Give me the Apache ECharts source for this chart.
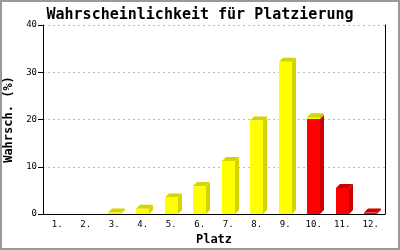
<!DOCTYPE html>
<html>
<head>
<meta charset="utf-8">
<script src="https://cdn.jsdelivr.net/npm/echarts@6/dist/echarts.min.js"></script>
<style>
html,body{margin:0;padding:0;background:#fff;}
#c{width:400px;height:250px;}
</style>
</head>
<body>
<div id="c"></div>
<script>
const categories = ['1.','2.','3.','4.','5.','6.','7.','8.','9.','10.','11.','12.'];
const yellowValues = [0, 0, 0.3, 1.1, 3.5, 5.9, 11.2, 19.8, 32.2, 0.4, 0, 0];
const redValues = [0, 0, 0, 0, 0, 0, 0, 0, 0, 20.1, 5.5, 0.3];
const yTicks = [0, 10, 20, 30, 40];

const FONT = 'DejaVu Sans Mono';

function bar3D(front, side, top) {
  return function (params, api) {
    const x = api.value(0), lo = api.value(1), hi = api.value(2);
    if (!(hi > lo)) return null;
    const pLo = api.coord([x, lo]);
    const pHi = api.coord([x, hi]);
    const w = 13, d = 4;
    const x0 = Math.round(pLo[0] - w / 2), x1 = x0 + w;
    const yT = pHi[1], yB = pLo[1];
    return {
      type: 'group',
      children: [
        { type: 'polygon', shape: { points: [[x1, yB], [x1 + d, yB - d], [x1 + d, yT - d], [x1, yT]] }, style: { fill: side } },
        { type: 'polygon', shape: { points: [[x0, yT], [x0 + d, yT - d], [x1 + d, yT - d], [x1, yT]] }, style: { fill: top } },
        { type: 'rect', shape: { x: x0, y: yT, width: w, height: Math.max(yB - yT, 0) }, style: { fill: front } }
      ]
    };
  };
}

const redData = categories.map((c, i) => [i, 0, redValues[i]]);
const yellowData = categories.map((c, i) => [i, redValues[i], redValues[i] + yellowValues[i]]);

const chart = echarts.init(document.getElementById('c'), null, { renderer: 'canvas' });
chart.setOption({
  animation: false,
  backgroundColor: '#fff',
  title: {
    text: 'Wahrscheinlichkeit für Platzierung',
    left: 'center', top: 3,
    textStyle: { fontFamily: FONT, fontSize: 15, fontWeight: 'bold', color: '#000' }
  },
  grid: { left: 43, right: 15, top: 25, bottom: 36, containLabel: false, outerBoundsMode: 'none' },
  xAxis: {
    type: 'category',
    data: categories,
    boundaryGap: true,
    name: 'Platz',
    nameLocation: 'middle',
    nameGap: 20,
    nameTextStyle: { fontFamily: FONT, fontSize: 12, fontWeight: 'bold', color: '#000' },
    axisLine: { lineStyle: { color: '#000', width: 1 } },
    axisTick: { show: false },
    axisLabel: { fontFamily: FONT, fontSize: 9, color: '#000', margin: 6, interval: 0 },
    splitLine: { show: false }
  },
  yAxis: [{
    type: 'value',
    min: yTicks[0], max: yTicks[yTicks.length - 1], interval: 10,
    name: 'Wahrsch. (%)',
    nameLocation: 'middle',
    nameGap: 21,
    nameTextStyle: { fontFamily: FONT, fontSize: 12, fontWeight: 'bold', color: '#000' },
    axisLine: { show: true, lineStyle: { color: '#000', width: 1 } },
    axisTick: { show: true, length: 5, inside: false, lineStyle: { color: '#000' } },
    axisLabel: { fontFamily: FONT, fontSize: 9, color: '#000', margin: 6 },
    splitLine: { show: true, lineStyle: { color: '#bbb', type: [2, 3], width: 1 } }
  }, {
    type: 'value',
    position: 'right',
    min: 0, max: 40, interval: 10,
    axisLine: { show: true, lineStyle: { color: '#000', width: 1 } },
    axisTick: { show: false },
    axisLabel: { show: false },
    splitLine: { show: false }
  }],
  graphic: [{
    type: 'rect', silent: true, z: 100,
    shape: { x: 1, y: 1, width: 398, height: 248 },
    style: { fill: null, stroke: '#999', lineWidth: 2 }
  }],
  series: [{
    type: 'custom',
    name: 'rot',
    renderItem: bar3D('#ff0000', '#cc0000', '#cc0000'),
    data: redData,
    encode: { x: 0, y: [1, 2] }
  }, {
    type: 'custom',
    name: 'gelb',
    renderItem: bar3D('#ffff00', '#d4d400', '#d4d400'),
    data: yellowData,
    encode: { x: 0, y: [1, 2] }
  }]
});
</script>
</body>
</html>
